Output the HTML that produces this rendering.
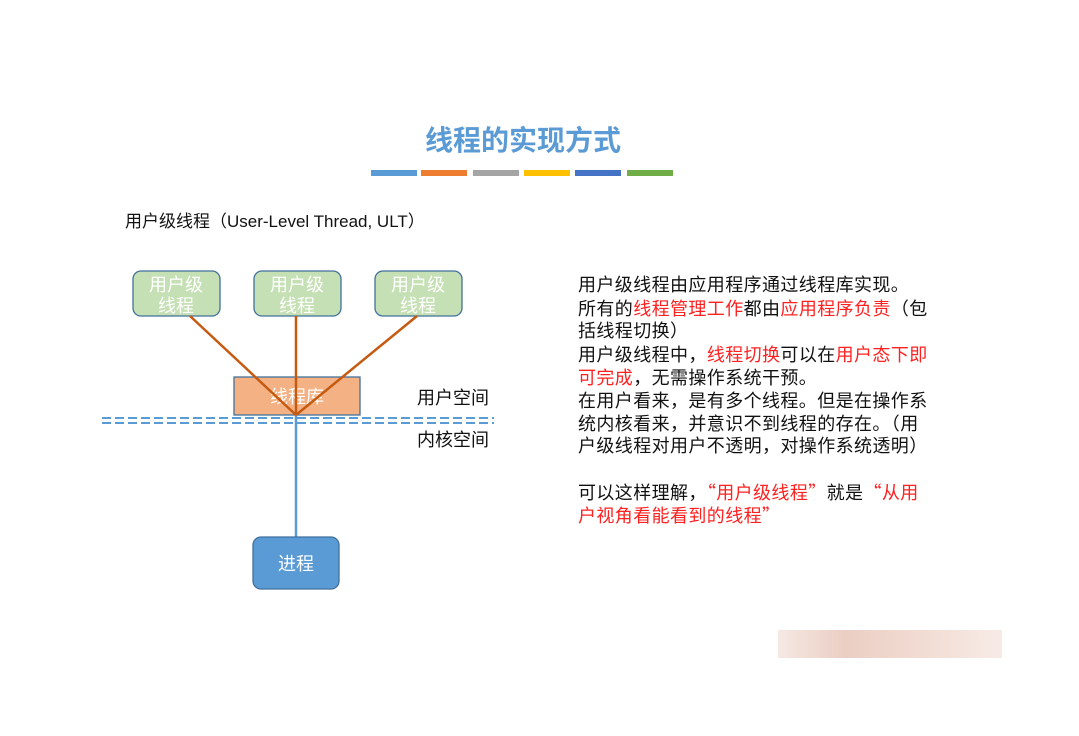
<!DOCTYPE html>
<html><head><meta charset="utf-8"><style>
html,body{margin:0;padding:0;background:#fff}
body{width:1079px;height:736px;position:relative;overflow:hidden;font-family:"Liberation Sans","Noto Sans CJK SC",sans-serif}
.r{position:absolute;left:578px;font-size:18px;letter-spacing:0.4px;color:#111;line-height:23px;white-space:nowrap}
.red{color:#ff2020}
.q{font-family:"Noto Sans CJK SC",sans-serif}
</style></head><body>
<svg width="1079" height="736" style="position:absolute;left:0;top:0" font-family="Liberation Sans, Noto Sans CJK SC, sans-serif">
<text x="523" y="150" text-anchor="middle" font-size="28" fill="#5b9bd5" font-weight="bold">线程的实现方式</text>
<rect x="371" y="170" width="46" height="6" fill="#5b9bd5"/>
<rect x="421" y="170" width="46" height="6" fill="#ed7d31"/>
<rect x="473" y="170" width="46" height="6" fill="#a5a5a5"/>
<rect x="524" y="170" width="46" height="6" fill="#ffc000"/>
<rect x="575" y="170" width="46" height="6" fill="#4472c4"/>
<rect x="627" y="170" width="46" height="6" fill="#70ad47"/>
<text x="125" y="227" font-size="17" fill="#111">用户级线程（User-Level Thread, ULT）</text>
<g fill="#c5e0b4" stroke="#41719c" stroke-width="1.3">
<rect x="133" y="271" width="87" height="45" rx="8"/>
<rect x="254" y="271" width="87" height="45" rx="8"/>
<rect x="375" y="271" width="87" height="45" rx="8"/>
</g>
<g fill="#fff" font-size="18" text-anchor="middle">
<text x="176" y="291">用户级</text><text x="176" y="312">线程</text>
<text x="297" y="291">用户级</text><text x="297" y="312">线程</text>
<text x="418" y="291">用户级</text><text x="418" y="312">线程</text>
</g>
<rect x="234" y="377" width="126" height="38" fill="#f4b183" stroke="#41719c" stroke-width="1.3"/>
<text x="297" y="403" text-anchor="middle" font-size="18" fill="#fff">线程库</text>
<g stroke="#5b9bd5" stroke-width="2" stroke-dasharray="9,4">
<line x1="102" y1="418" x2="494" y2="418"/><line x1="102" y1="423" x2="494" y2="423"/>
</g>
<line x1="296" y1="415" x2="296" y2="537" stroke="#5b9bd5" stroke-width="2.5"/>
<g stroke="#c55a11" stroke-width="2.5">
<line x1="190" y1="316" x2="296" y2="415"/><line x1="296" y1="316" x2="296" y2="415"/><line x1="417" y1="316" x2="296" y2="415"/>
</g>
<text x="417" y="404" font-size="18" fill="#111">用户空间</text>
<text x="417" y="446" font-size="18" fill="#111">内核空间</text>
<rect x="253" y="537" width="86" height="52" rx="8" fill="#5b9bd5" stroke="#41719c" stroke-width="1.3"/>
<text x="296" y="570" text-anchor="middle" font-size="18" fill="#fff">进程</text>
<defs><linearGradient id="g" x1="0" x2="1"><stop offset="0" stop-color="#f3e3dc"/><stop offset=".3" stop-color="#e6c2b4"/><stop offset=".7" stop-color="#efd6cc"/><stop offset="1" stop-color="#f5e6e0"/></linearGradient></defs>
<rect x="778" y="630" width="224" height="28" fill="url(#g)" opacity=".8"/>
</svg>
<div class="r" style="top:274px">用户级线程由应用程序通过线程库实现。</div>
<div class="r" style="top:298px">所有的<span class="red">线程管理工作</span>都由<span class="red">应用程序负责</span>（包</div>
<div class="r" style="top:320px">括线程切换）</div>
<div class="r" style="top:344px">用户级线程中，<span class="red">线程切换</span>可以在<span class="red">用户态下即</span></div>
<div class="r" style="top:367px"><span class="red">可完成</span>，无需操作系统干预。</div>
<div class="r" style="top:390px">在用户看来，是有多个线程。但是在操作系</div>
<div class="r" style="top:413px">统内核看来，并意识不到线程的存在。（用</div>
<div class="r" style="top:435px">户级线程对用户不透明，对操作系统透明）</div>
<div class="r" style="top:481px">可以这样理解，<span class="red"><span class="q">“</span>用户级线程<span class="q">”</span></span>就是<span class="red"><span class="q">“</span>从用</span></div>
<div class="r" style="top:504px"><span class="red">户视角看能看到的线程<span class="q">”</span></span></div>
</body></html>
